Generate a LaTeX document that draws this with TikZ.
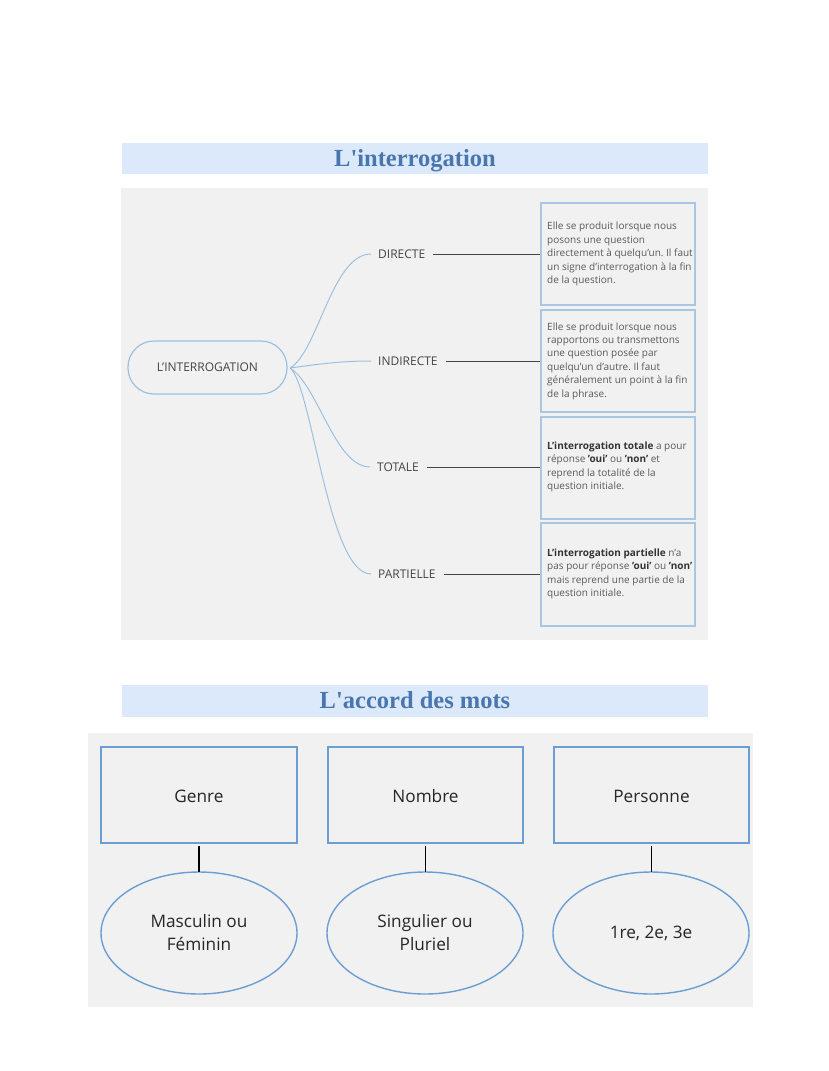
\documentclass[tikz,border=0pt]{standalone}
\usepackage{fontspec}
\setmainfont{Open Sans}
\newfontfamily\titlefont{Liberation Serif}
\usetikzlibrary{shapes.geometric}
\frenchspacing
\definecolor{titlebar}{HTML}{DCE9FA}
\definecolor{titletext}{HTML}{4A76AE}
\definecolor{panel}{HTML}{F1F1F1}
\definecolor{curveblue}{HTML}{9CC0E0}
\definecolor{boxblue}{HTML}{A9C6E3}
\definecolor{strongblue}{HTML}{6B9FD3}
\definecolor{labelgray}{HTML}{444444}
\definecolor{descgray}{HTML}{5A5A5A}
\tikzset{
  titlebox/.style={fill=titlebar, draw=none},
  titlelabel/.style={text=titletext, font=\titlefont\bfseries\fontsize{24.5}{28}\selectfont, inner sep=0, anchor=base},
  panelbox/.style={fill=panel, draw=none},
  rootnode/.style={draw=curveblue, line width=1.2pt, rounded corners=26pt, fill=panel},
  branchlabel/.style={text=labelgray, font=\fontsize{12}{14}\selectfont, inner sep=0, anchor=west},
  branchcurve/.style={draw=curveblue, line width=1pt},
  leader/.style={draw=labelgray, line width=1pt},
  descbox/.style={draw=boxblue, line width=1.3pt, fill=panel},
  desctext/.style={text=descgray, font=\fontsize{10}{13.4}\selectfont, align=left, inner sep=0, anchor=west},
  catbox/.style={draw=strongblue, line width=1.6pt, fill=panel},
  catellipse/.style={draw=strongblue, line width=1.4pt, ellipse, minimum width=196pt, minimum height=122pt, inner sep=0, fill=panel},
  bigtext/.style={text=black!85, font=\fontsize{17.2}{23}\selectfont, align=center, inner sep=0},
  stem/.style={draw=black, line width=1.4pt}
}
\newcommand{\dk}[1]{\textcolor{black!80}{\textbf{#1}}}
\begin{document}
\begin{tikzpicture}[x=1pt,y=-1pt]
\useasboundingbox (0,0) rectangle (828,1071);
\fill[white] (0,0) rectangle (828,1071);
% ---------- section 1 ----------
\path[titlebox] (122,143) rectangle (708,174);
\node[titlelabel] (t1) at (415,166) {L\symbol{"27}interrogation};
\path[panelbox] (121,188) rectangle (708,640);

\path[rootnode] (128,341) rectangle (287,394);
\node[text=labelgray, font=\fontsize{12}{14}\selectfont, inner sep=0] (root) at (207.5,367.5) {L'INTERROGATION};
\coordinate (hub) at (290,368);

\node[branchlabel] (b1) at (378,254) {DIRECTE};
\node[branchlabel] (b2) at (378,361) {INDIRECTE};
\node[branchlabel] (b3) at (377,467) {TOTALE};
\node[branchlabel] (b4) at (378,574) {PARTIELLE};

\draw[branchcurve] (hub) .. controls (318,352) and (332,254) .. ([xshift=-7pt]b1.west);
\draw[branchcurve] (hub) .. controls (320,364) and (340,361) .. ([xshift=-7pt]b2.west);
\draw[branchcurve] (hub) .. controls (318,385) and (335,467) .. ([xshift=-7pt]b3.west);
\draw[branchcurve] (hub) .. controls (312,385) and (328,574) .. ([xshift=-7pt]b4.west);

\node[descbox, minimum width=154pt, minimum height=102pt, inner sep=0] (d1) at (618,254) {};
\node[descbox, minimum width=154pt, minimum height=102pt, inner sep=0] (d2) at (618,361) {};
\node[descbox, minimum width=154pt, minimum height=102pt, inner sep=0] (d3) at (618,468) {};
\node[descbox, minimum width=154pt, minimum height=103pt, inner sep=0] (d4) at (618,574.5) {};

\draw[leader] ([xshift=8pt]b1.east) -- (d1.west);
\draw[leader] ([xshift=8pt]b2.east) -- (d2.west);
\draw[leader] ([xshift=8pt]b3.east) -- (b3.east -| d3.west);
\draw[leader] ([xshift=8pt]b4.east) -- (b4.east -| d4.west);

\node[desctext] (x1) at (547,254) {Elle se produit lorsque nous\\posons une question\\directement à quelqu'un. Il faut\\un signe d'interrogation à la fin\\de la question.};
\node[desctext] (x2) at (547,361) {Elle se produit lorsque nous\\rapportons ou transmettons\\une question posée par\\quelqu'un d'autre. Il faut\\généralement un point à la fin\\de la phrase.};
\node[desctext] (x3) at (547,467) {\dk{L'interrogation totale} a pour\\réponse \dk{'oui'} ou \dk{'non'} et\\reprend la totalité de la\\question initiale.};
\node[desctext] (x4) at (547,574) {\dk{L'interrogation partielle} n'a\\pas pour réponse \dk{'oui'} ou \dk{'non'}\\mais reprend une partie de la\\question initiale.};

% ---------- section 2 ----------
\path[titlebox] (122,685) rectangle (708,717);
\node[titlelabel] (t2) at (415,708) {L\symbol{"27}accord des mots};
\path[panelbox] (88,733) rectangle (753,1007);

\node[catbox, minimum width=196pt, minimum height=96pt, inner sep=0] (c1) at (199,795) {};
\node[catbox, minimum width=195pt, minimum height=96pt, inner sep=0] (c2) at (425.5,795) {};
\node[catbox, minimum width=195pt, minimum height=96pt, inner sep=0] (c3) at (651.5,795) {};
\node[bigtext] (c1t) at (199,796) {Genre};
\node[bigtext] (c2t) at (425.5,796) {Nombre};
\node[bigtext] (c3t) at (651.5,796) {Personne};

\node[catellipse] (e1) at (199,933) {};
\node[catellipse] (e2) at (425,933) {};
\node[catellipse] (e3) at (651,933) {};
\node[bigtext] (e1t) at (199,933) {Masculin ou\\Féminin};
\node[bigtext] (e2t) at (425,933) {Singulier ou\\Pluriel};
\node[bigtext] (e3t) at (651,933) {1re, 2e, 3e};

\draw[stem] ([yshift=-2pt]c1.south) -- ([yshift=-1pt]c1.south |- e1.north);
\draw[stem] ([yshift=-2pt]c2.south) -- ([yshift=-1pt]c2.south |- e2.north);
\draw[stem] ([yshift=-2pt]c3.south) -- ([yshift=-1pt]c3.south |- e3.north);
\end{tikzpicture}
\end{document}
